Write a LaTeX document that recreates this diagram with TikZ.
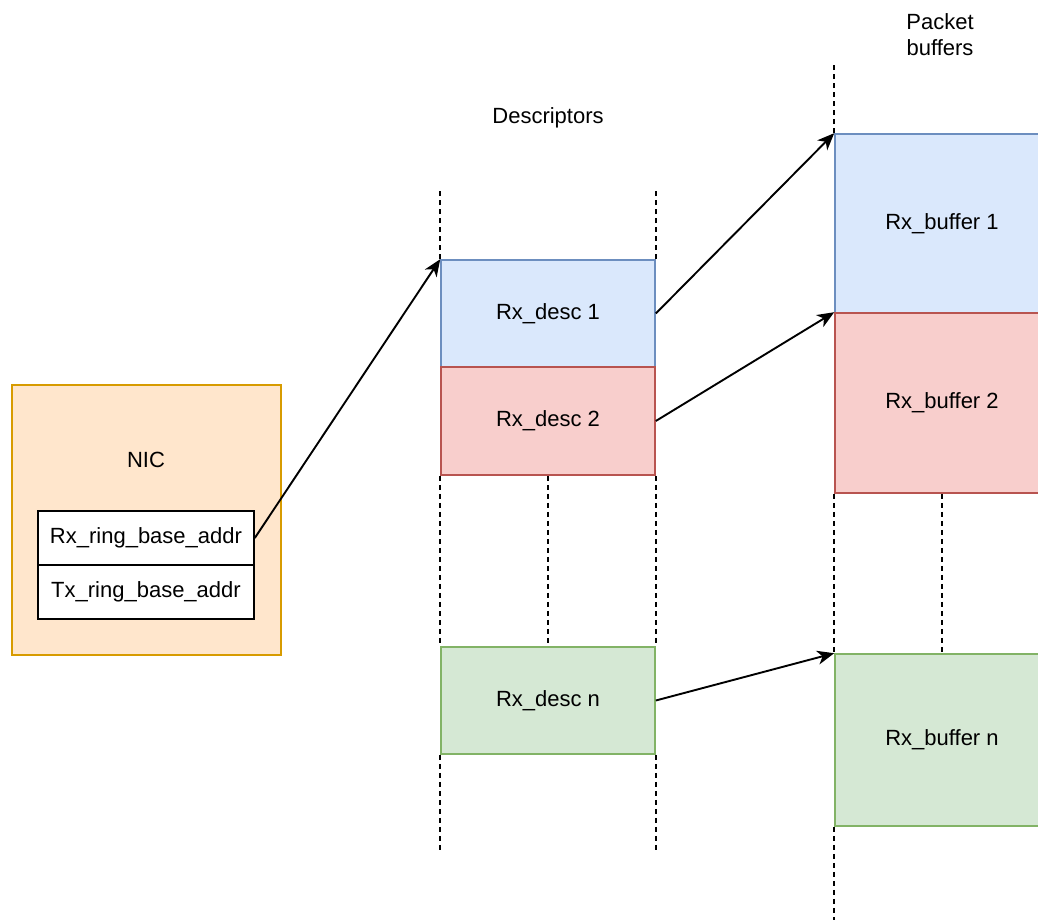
\documentclass[tikz,border=0pt]{standalone}
\usepackage{fontspec}
\setmainfont{Liberation Sans}
\usetikzlibrary{arrows.meta}
\definecolor{nicfill}{HTML}{FFE6CC}
\definecolor{nicline}{HTML}{D79B00}
\definecolor{bluefill}{HTML}{DAE8FC}
\definecolor{blueline}{HTML}{6C8EBF}
\definecolor{redfill}{HTML}{F8CECC}
\definecolor{redline}{HTML}{B85450}
\definecolor{greenfill}{HTML}{D5E8D4}
\definecolor{greenline}{HTML}{82B366}

\begin{document}
\begin{tikzpicture}[x=1pt,y=-1pt,
  font=\fontsize{22}{26}\selectfont,
  cell/.style={draw,rectangle,line width=1.6pt,inner sep=0pt,minimum width=214pt},
  bluecell/.style={cell,fill=bluefill,draw=blueline},
  redcell/.style={cell,fill=redfill,draw=redline},
  greencell/.style={cell,fill=greenfill,draw=greenline},
  guide/.style={line width=1.9pt,dash pattern=on 5pt off 4pt},
  ptr/.style={line width=1.9pt,-{Stealth[length=17pt,width=14pt,inset=5pt]}}]
  \path[use as bounding box,clip] (0,0) rectangle (1038,919);

  % NIC and its registers
  \node[draw=nicline,fill=nicfill,line width=1.6pt,minimum width=269pt,minimum height=270pt] (nic) at (146.5,520) {};
    \node (niclbl) at (146,460) {NIC};
  \node[cell,fill=white,minimum width=216pt,minimum height=54pt] (rxring) at (146,538) {Rx\_ring\_base\_addr};
  \node[cell,fill=white,minimum width=216pt,minimum height=54pt] (txring) at (146,592) {Tx\_ring\_base\_addr};

  % descriptor ring
  \node (desclbl) at (548,118) {Descriptors};
  \node[bluecell,minimum height=107pt]  (desc1) at (548,313.5) {Rx\_desc 1};
  \node[redcell,minimum height=108pt]   (desc2) at (548,421)   {Rx\_desc 2};
  \node[greencell,minimum height=107pt] (descn) at (548,700.5) {Rx\_desc n};
    \foreach \ta in {north west,north east} {
      \draw[guide] (desc1.\ta) -- ++(0,-70);}
    \foreach \ta in {south west,south,south east} {
      \draw[guide] (desc2.\ta) -- (descn.\ta |- descn.north);}
    \foreach \ta in {south west,south east} {
      \draw[guide] (descn.\ta) -- ++(0,98);}

  % packet buffers
  \node[align=center] (buflbl) at (940,35) {Packet\\buffers};
  \node[bluecell,minimum height=179pt]  (buf1) at (942,223.5) {Rx\_buffer 1};
  \node[redcell,minimum height=180pt]   (buf2) at (942,403)   {Rx\_buffer 2};
  \node[greencell,minimum height=172pt] (bufn) at (942,740)   {Rx\_buffer n};
  \draw[guide] (buf1.north west) -- ++(0,-69);
    \foreach \ta in {south west,south} {
      \draw[guide] (buf2.\ta) -- (bufn.\ta |- bufn.north);}
  \draw[guide] (bufn.south west) -- ++(0,95);

  % pointers
  \draw[ptr] (rxring.east) -- (desc1.north west);
  \draw[ptr] (desc1.east) -- (buf1.north west);
  \draw[ptr] (desc2.east) -- (buf2.north west);
  \draw[ptr] (descn.east) -- (bufn.north west);
\end{tikzpicture}
\end{document}
